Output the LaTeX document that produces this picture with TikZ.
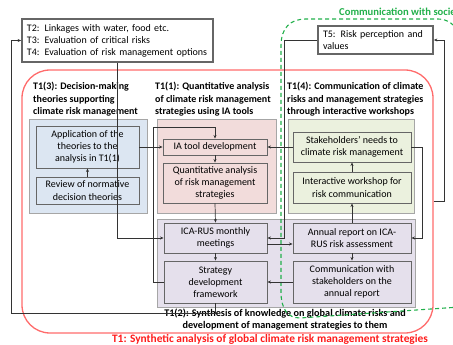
\documentclass[tikz,border=0pt]{standalone}
\usepackage{fontspec}
\setmainfont{Carlito}
\usetikzlibrary{arrows.meta,calc}
\definecolor{cblue}{HTML}{DCE6F2}
\definecolor{cpink}{HTML}{F2DCDB}
\definecolor{clav}{HTML}{E5E0EC}
\definecolor{cgreen}{HTML}{EBF1DE}
\definecolor{cred}{HTML}{FF6B6B}
\definecolor{cgdash}{HTML}{22B04B}
\definecolor{ctred}{HTML}{FF1A1A}
\definecolor{cline}{HTML}{333333}
\tikzset{
  panel/.style={draw=black!35, line width=0.9pt, inner sep=0pt},
  ibox/.style={draw=black!60, line width=0.9pt, align=center, inner sep=1pt, font=\fontsize{10}{12.2}\selectfont},
  tbox/.style={draw=black!60, line width=1.8pt, align=left, inner sep=4pt, font=\fontsize{10}{12}\selectfont, fill=white},
  sect/.style={align=left, anchor=north west, inner sep=0pt, font=\bfseries\fontsize{10}{12.4}\selectfont},
  conn/.style={draw=cline, line width=0.7pt, -{Stealth[length=3.5pt,width=3pt]}},
}
\begin{document}
\begin{tikzpicture}[x=1pt,y=-1pt]
\useasboundingbox (0,0) rectangle (453,345);
% T1 red region
\node[draw=cred, line width=1.3pt, rounded corners=28pt, minimum width=411pt, minimum height=263pt, inner sep=0pt] (t1) at (227.5,201.5) {};
% top boxes
\node[tbox, minimum width=191pt, minimum height=43pt, text width=181pt] (t2) at (117.5,40.5)
 {T2: Linkages with water, food etc.\\T3: Evaluation of critical risks\\T4: Evaluation of risk management options};
\node[tbox, minimum width=115pt, minimum height=28pt, text width=105pt] (t5) at (375.5,40)
 {T5: Risk perception and\\values};
% section titles
\node[sect] (s3) at (33,82) {T1(3): Decision-making\\theories supporting\\climate risk management};
\node[sect] (s1) at (155,82) {T1(1): Quantitative analysis\\of climate risk management\\strategies using IA tools};
\node[sect] (s4) at (287,82) {T1(4): Communication of climate\\risks and management strategies\\through interactive workshops};
% panels
\node[panel, fill=cblue, minimum width=118pt, minimum height=94pt] (pb) at (88,166) {};
\node[panel, fill=cpink, minimum width=119pt, minimum height=94pt] (pp) at (216.5,166) {};
\node[panel, fill=cgreen, minimum width=126pt, minimum height=94pt] (pg) at (351,166) {};
\node[panel, fill=clav, minimum width=258pt, minimum height=88pt] (pl) at (286,263) {};
% inner boxes
\node[ibox, fill=cblue, minimum width=103pt, minimum height=42pt] (app) at (87.5,147) {Application of the\\theories to the\\analysis in T1(1)};
\node[ibox, fill=cblue, minimum width=103pt, minimum height=27pt] (rev) at (87.5,190.5) {Review of normative\\decision theories};
\node[ibox, fill=cpink, minimum width=104pt, minimum height=16pt] (ia) at (215,147) {IA tool development};
\node[ibox, fill=cpink, minimum width=104pt, minimum height=40pt] (qa) at (215,183) {Quantitative analysis\\of risk management\\strategies};
\node[ibox, fill=cgreen, minimum width=118pt, minimum height=30pt] (sn) at (352,147) {Stakeholders’ needs to\\climate risk management};
\node[ibox, fill=cgreen, minimum width=118pt, minimum height=31pt] (iw) at (352,187.5) {Interactive workshop for\\risk communication};
\node[ibox, fill=clav, minimum width=103pt, minimum height=30pt] (icam) at (215.5,238) {ICA-RUS monthly\\meetings};
\node[ibox, fill=clav, minimum width=103pt, minimum height=42pt] (sdf) at (215.5,282) {Strategy\\development\\framework};
\node[ibox, fill=clav, minimum width=118pt, minimum height=30pt] (ar) at (352,238) {Annual report on ICA-\\RUS risk assessment};
\node[ibox, fill=clav, minimum width=118pt, minimum height=42pt] (com) at (352,282) {Communication with\\stakeholders on the\\annual report};
% labels
\node[align=center, inner sep=0pt, font=\bfseries\fontsize{10.2}{12.8}\selectfont] (l2) at (285,319.5) {T1(2): Synthesis of knowledge on global climate risks and\\development of management strategies to them};
\node[inner sep=0pt, text=ctred, font=\bfseries\fontsize{11.4}{12}\selectfont] (l1) at (270,339) {T1: Synthetic analysis of global climate risk management strategies};
\node[anchor=west, inner sep=0pt, text=cgdash, font=\bfseries\fontsize{10.6}{12}\selectfont] (lc) at (339,13) {Communication with society};
% green dashed region
\draw[cgdash, line width=1.1pt, dash pattern=on 4pt off 3pt]
  (460,307) -- (300,318) .. controls (287,318) and (281,308) .. (281,292)
  -- (281,46) .. controls (281,28) and (290,19) .. (306,19)
  -- (438,19) .. controls (448,19) and (455,25) .. (460,34);
% connectors
\draw[conn] (t2.south) |- (icam.west);
\draw[conn] (sdf.south) |- (11,313) |- (t2.west);
\draw[conn] (app.east) -- (ia.west);
\draw[conn] (rev.north) -- (app.south);
\draw[conn] (sdf.west) -| (153,127) -| (ia.north);
\draw[conn] (ia.south) -- (qa.north);
\draw[conn] (qa.south) -- (icam.north);
\draw[conn] (icam.south) -- (sdf.north);
\draw[conn] ($(icam.east)+(0,6)$) -- ($(ar.west)+(0,6)$);
\draw[conn] (t5.west) -| (284,238) -- (icam.east);
\draw[conn] (sn.west) -- (ia.east);
\draw[conn] (iw.north) -- (sn.south);
\draw[conn] (ar.north) -- (iw.south);
\draw[conn] (ar.south) -- (com.north);
\draw[conn] (com.west) -- (sdf.east);
\draw[conn] (sn.east) -- ++(11,0) |- (ar.east);
\draw[conn] (t1.east) -- ++(11,0) |- (t5.east);
\end{tikzpicture}
\end{document}
